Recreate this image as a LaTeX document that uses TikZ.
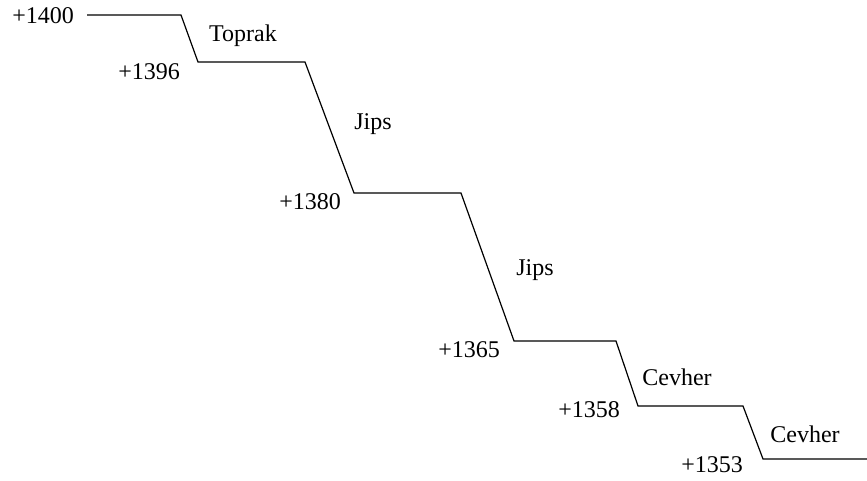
\documentclass[tikz,border=0pt]{standalone}
\usepackage{fontspec}
\setmainfont{Liberation Serif}
\begin{document}
\begin{tikzpicture}[x=1pt,y=-1pt,
  lbl/.style={inner sep=0pt,font=\fontsize{24}{28}\selectfont},
  profile/.style={line width=1.2pt,line join=miter}]
\useasboundingbox (0,0) rectangle (867,480);
\coordinate (p0) at (87,15);
\coordinate (p1) at (181,15);
\coordinate (p2) at (198,62);
\coordinate (p3) at (305,62);
\coordinate (p4) at (354,193);
\coordinate (p5) at (461,193);
\coordinate (p6) at (514,341);
\coordinate (p7) at (616,341);
\coordinate (p8) at (638,406);
\coordinate (p9) at (743,406);
\coordinate (p10) at (763,459);
\coordinate (p11) at (867,459);
\draw[profile] (p0) -- (p1) -- (p2) -- (p3) -- (p4) -- (p5) -- (p6) -- (p7) -- (p8) -- (p9) -- (p10) -- (p11);
\node[lbl,anchor=east] (e1400) at (74,16) {+1400};
\node[lbl] (t1) at (243,36) {Toprak};
\node[lbl,anchor=east] (e1396) at (180,72) {+1396};
\node[lbl] (t2) at (373,124) {Jips};
\node[lbl,anchor=east] (e1380) at (341,202) {+1380};
\node[lbl] (t3) at (535,270) {Jips};
\node[lbl,anchor=east] (e1365) at (500,350) {+1365};
\node[lbl] (t4) at (677,377) {Cevher};
\node[lbl,anchor=east] (e1358) at (620,410) {+1358};
\node[lbl] (t5) at (805,434) {Cevher};
\node[lbl,anchor=east] (e1353) at (743,465) {+1353};
\end{tikzpicture}
\end{document}
